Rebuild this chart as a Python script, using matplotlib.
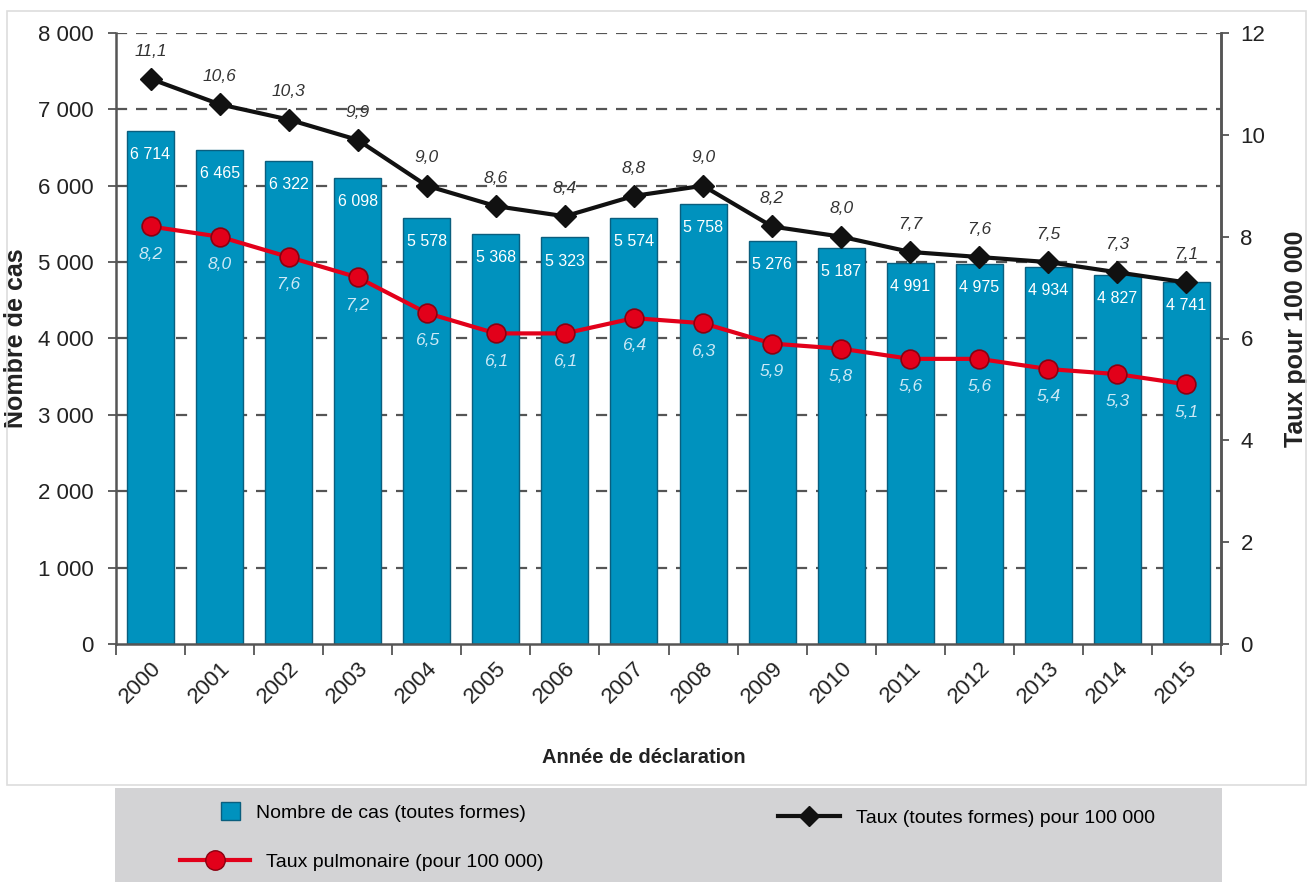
import matplotlib
matplotlib.use("Agg")
import matplotlib.pyplot as plt
from matplotlib.lines import Line2D
from matplotlib.patches import Patch, Rectangle
from matplotlib import font_manager as fm

years = ["2000", "2001", "2002", "2003", "2004", "2005", "2006", "2007",
         "2008", "2009", "2010", "2011", "2012", "2013", "2014", "2015"]
cases = [6714, 6465, 6322, 6098, 5578, 5368, 5323, 5574,
         5758, 5276, 5187, 4991, 4975, 4934, 4827, 4741]
rate_all = [11.1, 10.6, 10.3, 9.9, 9.0, 8.6, 8.4, 8.8,
            9.0, 8.2, 8.0, 7.7, 7.6, 7.5, 7.3, 7.1]
rate_pulm = [8.2, 8.0, 7.6, 7.2, 6.5, 6.1, 6.1, 6.4,
             6.3, 5.9, 5.8, 5.6, 5.6, 5.4, 5.3, 5.1]
left_ticks = [0, 1000, 2000, 3000, 4000, 5000, 6000, 7000, 8000]
right_ticks = [0, 2, 4, 6, 8, 10, 12]

names = {f.name for f in fm.fontManager.ttflist}
FONT = "Liberation Sans Narrow" if "Liberation Sans Narrow" in names else "Liberation Sans"
plt.rcParams["font.family"] = [FONT, "DejaVu Sans"]

BLUE = "#0092be"
BLUE_EDGE = "#0a5e7e"
RED = "#e2001a"
GRID = "#555555"
AX = "#555555"
TXT = "#222222"

def fmt_int(v):
    return f"{v:,}".replace(",", " ")

def fmt_dec(v):
    return f"{v:.1f}".replace(".", ",")

fig = plt.figure(figsize=(13.14, 8.82), dpi=100)
fig.patch.set_facecolor("white")

# light frame around chart area
fig.patches.append(Rectangle((7 / 1314, 1 - 785 / 882), (1306 - 7) / 1314, (785 - 11) / 882,
                             transform=fig.transFigure, fill=False,
                             edgecolor="#dddddd", lw=1.2, zorder=0))
# grey legend band
fig.patches.append(Rectangle((115 / 1314, 0), (1222 - 115) / 1314, (882 - 788) / 882,
                             transform=fig.transFigure, facecolor="#d3d3d5",
                             edgecolor="none", zorder=0))

ax = fig.add_axes([116 / 1314, 1 - 644 / 882, (1221 - 116) / 1314, (644 - 33) / 882])
ax.set_facecolor("none")
x = list(range(len(years)))

ax.bar(x, cases, width=0.68, color=BLUE, edgecolor=BLUE_EDGE, linewidth=1.0, zorder=2)
ax.set_xlim(-0.5, len(years) - 0.5)
ax.set_ylim(0, 8000)
ax.set_yticks(left_ticks)
ax.set_yticklabels([fmt_int(v) for v in left_ticks], fontsize=16, color=TXT)
for v in left_ticks[1:]:
    ax.axhline(v, color=GRID, lw=1.6, ls=(0, (5, 4)), zorder=1)

ax.set_xticks(x)
ax.set_xticklabels(years, rotation=45, ha="right", rotation_mode="anchor",
                   fontsize=16, color=TXT)
ax.tick_params(axis="x", which="major", length=0, pad=10)
ax.set_xticks([i - 0.5 for i in range(len(years) + 1)], minor=True)
ax.tick_params(axis="x", which="minor", length=8, width=1.3, color=AX, direction="out")
ax.tick_params(axis="y", length=6, width=1.3, color=AX, pad=10)

ax.spines["top"].set_visible(False)
for s in ["left", "bottom", "right"]:
    ax.spines[s].set_color(AX)
    ax.spines[s].set_linewidth(1.8)

for xi, v in zip(x, cases):
    ax.annotate(fmt_int(v), (xi, v), xytext=(0, -17), textcoords="offset points",
                ha="center", va="center", color="white", fontsize=11.5, zorder=3)

ax.set_ylabel("Nombre de cas", fontsize=18, fontweight="bold", color=TXT)
ax.yaxis.set_label_coords(-88 / 1105, 0.5)
ax.set_xlabel("Année de déclaration", fontsize=14.5, fontweight="bold", color=TXT)
ax.xaxis.set_label_coords((644 - 116) / 1105, -(748 - 644) / 611)

ax2 = ax.twinx()
ax2.set_ylim(0, 12)
ax2.set_yticks(right_ticks)
ax2.set_yticklabels([str(v) for v in right_ticks], fontsize=16, color=TXT)
ax2.tick_params(axis="y", length=6, width=1.3, color=AX, pad=8)
for s in ["top", "left", "bottom"]:
    ax2.spines[s].set_visible(False)
ax2.spines["right"].set_color(AX)
ax2.spines["right"].set_linewidth(1.8)

ax2.plot(x, rate_all, color="#111111", lw=3, marker="D", markersize=11,
         markerfacecolor="#111111", markeredgecolor="#111111", zorder=4)
ax2.plot(x, rate_pulm, color=RED, lw=3, marker="o", markersize=13.5,
         markerfacecolor=RED, markeredgecolor="#8a0010", markeredgewidth=1.2, zorder=4)

for xi, v in zip(x, rate_all):
    ax2.annotate(fmt_dec(v), (xi, v), xytext=(0, 20), textcoords="offset points",
                 ha="center", va="center", color="#333333", fontsize=12.5,
                 fontstyle="italic", zorder=5)
for xi, v in zip(x, rate_pulm):
    ax2.annotate(fmt_dec(v), (xi, v), xytext=(0, -20), textcoords="offset points",
                 ha="center", va="center", color="#cde9f6", fontsize=12.5,
                 fontstyle="italic", zorder=5)

ax2.set_ylabel("Taux pour 100 000", fontsize=18, fontweight="bold", color=TXT)
ax2.yaxis.set_label_coords(1 + 63 / 1105, 0.5)

# legend entries
h_bar = Patch(facecolor=BLUE, edgecolor=BLUE_EDGE)
h_all = Line2D([], [], color="#111111", lw=3, marker="D", markersize=10)
h_pulm = Line2D([], [], color=RED, lw=3, marker="o", markersize=14,
                markeredgecolor="#8a0010")
leg_kw = dict(frameon=False, fontsize=14, handletextpad=0.8,
              borderpad=0, borderaxespad=0, loc="center left")
fig.legend([h_bar], ["Nombre de cas (toutes formes)"],
           bbox_to_anchor=(221 / 1314, 1 - 812 / 882), handlelength=1.0,
           handleheight=1.0, **leg_kw)
fig.legend([h_all], ["Taux (toutes formes) pour 100 000"],
           bbox_to_anchor=(778 / 1314, 1 - 818 / 882), handlelength=3.2, **leg_kw)
fig.legend([h_pulm], ["Taux pulmonaire (pour 100 000)"],
           bbox_to_anchor=(180 / 1314, 1 - 862 / 882), handlelength=3.6, **leg_kw)

fig.savefig("out.png", dpi=100, facecolor="white")
